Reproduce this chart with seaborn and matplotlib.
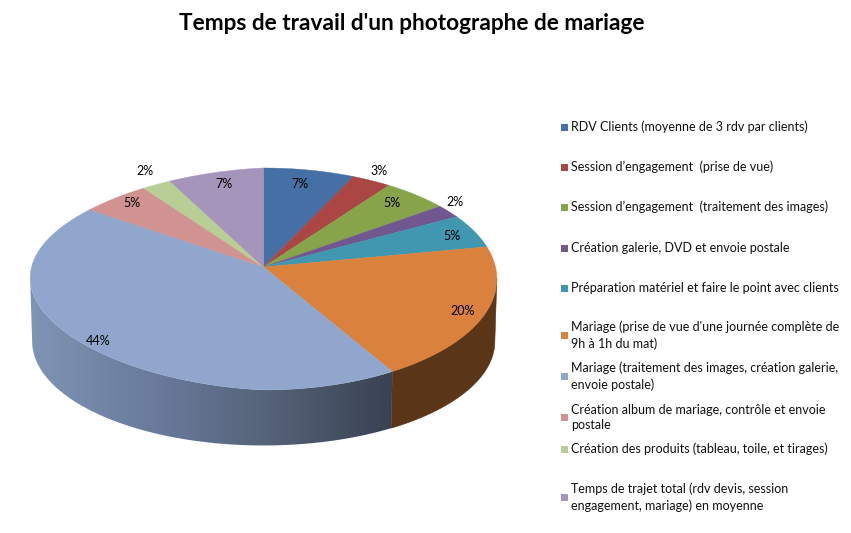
import numpy as np
import matplotlib
matplotlib.use("Agg")
import matplotlib.pyplot as plt
from matplotlib.colors import LinearSegmentedColormap
from matplotlib.patches import Rectangle
import seaborn as sns

# ---- data ----
TITLE = "Temps de travail d'un photographe de mariage"
categories = [
    "RDV Clients (moyenne de 3 rdv par clients)",
    "Session d’engagement  (prise de vue)",
    "Session d’engagement  (traitement des images)",
    "Création galerie, DVD et envoie postale",
    "Préparation matériel et faire le point avec clients",
    "Mariage (prise de vue d'une journée complète de\n9h à 1h du mat)",
    "Mariage (traitement des images, création galerie,\nenvoie postale)",
    "Création album de mariage, contrôle et envoie\npostale",
    "Création des produits (tableau, toile, et tirages)",
    "Temps de trajet total (rdv devis, session\nengagement, mariage) en moyenne",
]
values = [7, 3, 5, 2, 5, 19.6, 43.7, 5.2, 2.2, 7.3]

# ---- style / layout ----
palette = sns.color_palette(["#4570A5", "#AA4644", "#88A44B", "#71578F", "#4197AF",
                             "#D9813D", "#91A6CD", "#D19392", "#B9CD96", "#A695BA"])
label_xy = [(300, 184), (379, 171), (392, 203), (455, 202), (452, 236),
            (463, 311), (98, 341), (132, 203), (145, 171), (224, 184)]
legend_y = [127, 167, 207, 248, 288, 335.5, 376.5, 417.5, 449, 497.5]

sns.set_theme(style="white")
plt.rcParams["font.family"] = ["Lato", "DejaVu Sans"]

CX, CY, RX, RY, P = 263.5, 267.0, 232.0, 109.7, 0.108
BCY, BRX, BRY = 330.0, 230.0, 103.0
SHEAR = 0.045


def top_rim(theta):
    u, v = np.sin(theta), -np.cos(theta)
    d = 1 - P * v
    x = CX + RX * u / d
    y = CY + RY * v / d + SHEAR * np.maximum(0, CX - x) * (-v)
    return x, y


def bottom_rim(theta):
    u, v = np.sin(theta), -np.cos(theta)
    d = 1 - P * v
    return CX + BRX * u / d, BCY + BRY * v / d


def side(a, b):
    t = np.linspace(a, b, 120)
    x1, y1 = top_rim(t)
    x2, y2 = bottom_rim(t[::-1])
    return np.r_[x1, x2], np.r_[y1, y2]


fig = plt.figure(figsize=(8.51, 5.33), dpi=100, facecolor="white")
ax = fig.add_axes([0, 0, 1, 1])
ax.set_xlim(0, 851)
ax.set_ylim(533, 0)
ax.axis("off")

edges = np.radians(np.r_[0, np.cumsum(values)] / sum(values) * 360)
ext = np.radians(96.0)

# walls
xs, ys = side(ext, edges[6])
ax.fill(xs, ys, color="#5A3517", lw=0.4, zorder=1)
xs, ys = side(edges[6], 2 * np.pi - ext)
poly = ax.fill(xs, ys, color="none", lw=0, zorder=2)[0]
cmap = LinearSegmentedColormap.from_list(
    "wall", [(0, "#8094B4"), (0.36, "#68799A"), (0.65, "#566379"), (1, "#394152")])
grad = ax.imshow(np.linspace(0, 1, 256)[None, :], cmap=cmap, extent=(30, 394, 450, 270),
                 aspect="auto", zorder=2)
grad.set_clip_path(poly)
ax.set_xlim(0, 851)
ax.set_ylim(533, 0)

# top faces
for i, col in enumerate(palette):
    t = np.linspace(edges[i], edges[i + 1], 60)
    x, y = top_rim(t)
    ax.fill(np.r_[CX, x], np.r_[CY, y], color=col, lw=0.3, zorder=3)

# percentage labels
for (x, y), val in zip(label_xy, values):
    ax.text(x, y, f"{round(val)}%", fontsize=9, color="black", ha="center",
            va="center", zorder=4)

# legend
for name, col, y in zip(categories, palette, legend_y):
    ax.add_patch(Rectangle((561, y - 3.5), 7, 7, color=col, lw=0, zorder=4))
    ax.text(571, y, name, fontsize=9, color="#111111", ha="left", va="center",
            linespacing=1.38, zorder=4)

ax.text(412, 24, TITLE, fontsize=16.25, fontweight="bold", color="black",
        ha="center", va="center")

fig.savefig("out.png", dpi=100, facecolor="white")
